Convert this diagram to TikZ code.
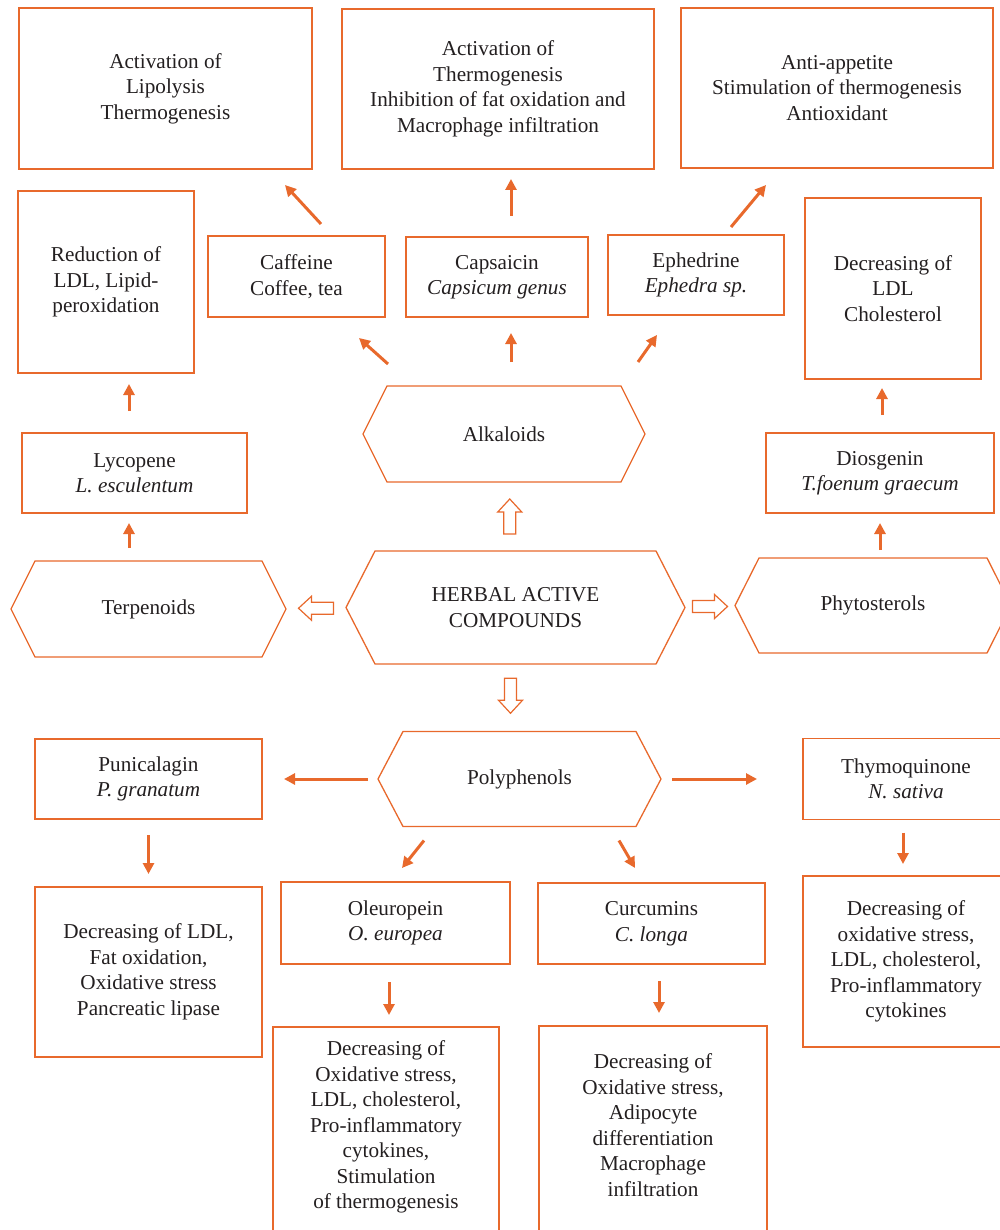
\documentclass[tikz,border=0pt]{standalone}
\usepackage{fontspec}
\setmainfont{Liberation Serif}
\usetikzlibrary{arrows.meta,calc}
\definecolor{orng}{HTML}{E8692C}
\definecolor{ink}{HTML}{231F20}

\tikzset{
  txt/.style={inner sep=0pt, outer sep=0pt, align=center, text=ink, font=\fontsize{21.2}{25.5}\selectfont},
  box/.style={txt, draw=orng, line width=1.4pt},
  hexa/.style={txt},
  sz/.style 2 args={minimum width=#1pt, minimum height=#2pt},
  arr/.style={orng, line width=3pt, -{Triangle[length=11pt,width=11pt]}},
  fatarrow/.pic={\draw[orng, line width=1.2pt, fill=white] (-17.5,-6) -- (4.5,-6) -- (4.5,-12) -- (17.5,0) -- (4.5,12) -- (4.5,6) -- (-17.5,6) -- cycle;}
}

% hexagon round a node: name, slant
\newcommand{\drawhex}[2]{%
  \draw[orng, line width=1.3pt] (#1.west) -- ([xshift=#2pt]#1.north west) -- ([xshift=-#2pt]#1.north east) -- (#1.east) -- ([xshift=-#2pt]#1.south east) -- ([xshift=#2pt]#1.south west) -- cycle;}

\begin{document}
\begin{tikzpicture}[x=1pt, y=-1pt]
	\useasboundingbox (0,0) rectangle (999,1230);
	
	% top row
	\node[box, sz={293}{161}] (act1) at (165.5,88.5) {Activation of\\Lipolysis\\Thermogenesis};
	\node[box, sz={312}{160}] (act2) at (498,89) {Activation of\\Thermogenesis\\Inhibition of fat oxidation and\\Macrophage infiltration};
	\node[box, sz={312}{160}] (act3) at (837,88) {Anti-appetite\\Stimulation of thermogenesis\\Antioxidant};
	
	% alkaloids branch
	\node[box, sz={177}{81}] (caff) at (296.5,276.5) {Caffeine\\Coffee, tea};
	\node[box, sz={182}{80}] (caps) at (497,277) {Capsaicin\\\textit{Capsicum genus}};
	\node[box, sz={176}{80}] (ephe) at (696,275) {Ephedrine\\\textit{Ephedra sp.}};
	\node[hexa, sz={282}{96}] (alk) at (504,434) {Alkaloids};
	\drawhex{alk}{24}
	
	% terpenoids branch
	\node[box, sz={176}{182}] (redu) at (106,282) {Reduction of\\LDL, Lipid-\\peroxidation};
	\node[box, sz={225}{80}] (lyco) at (134.5,473) {Lycopene\\\textit{L. esculentum}};
	\node[hexa, sz={275}{96}] (terp) at (148.5,609) {Terpenoids};
	\drawhex{terp}{24}
	
	% phytosterols branch
	\node[box, sz={176}{181}] (dchol) at (893,288.5) {Decreasing of\\LDL\\Cholesterol};
	\node[box, sz={228}{80}] (dios) at (880,473) {Diosgenin\\\textit{T.foenum graecum}};
	\node[hexa, sz={276}{95}] (phyto) at (873,605.5) {Phytosterols};
	\drawhex{phyto}{24}
	
	% centre
	\node[hexa, sz={339}{113}] (herb) at (515.5,607.5) {HERBAL ACTIVE\\COMPOUNDS};
	\drawhex{herb}{29}
	
	% polyphenols branch
	\node[hexa, sz={283}{95}] (poly) at (519.5,779) {Polyphenols};
	\drawhex{poly}{25}
	\node[box, sz={227}{80}] (puni) at (148.5,779) {Punicalagin\\\textit{P. granatum}};
	\node[box, sz={206}{81}] (thymo) at (906,779) {Thymoquinone\\\textit{N. sativa}};
	\node[box, sz={227}{170}] (decl) at (148.5,972) {Decreasing of LDL,\\Fat oxidation,\\Oxidative stress\\Pancreatic lipase};
	\node[box, sz={229}{82}] (oleu) at (395.5,923) {Oleuropein\\\textit{O. europea}};
	\node[box, sz={227}{81}] (curc) at (651.5,923.5) {Curcumins\\\textit{C. longa}};
	\node[box, sz={206}{171}] (thymod) at (906,961.5) {Decreasing of\\oxidative stress,\\LDL, cholesterol,\\Pro-inflammatory\\cytokines};
	\node[box, sz={226}{240}, anchor=north] (oleud) at (386,1027) {};
	\node[txt, anchor=north] (oleutxt) at ([shift={(0,14)}]oleud.north) {Decreasing of\\Oxidative stress,\\LDL, cholesterol,\\Pro-inflammatory\\cytokines,\\Stimulation\\of thermogenesis};
	\node[box, sz={228}{240}, anchor=north] (curcd) at (653,1026) {};
	\node[txt, anchor=north] (curctxt) at ([shift={(0,28)}]curcd.north) {Decreasing of\\Oxidative stress,\\Adipocyte\\differentiation\\Macrophage\\infiltration};
	
	% hollow arrows from the centre
	\pic[rotate=90] at ($(herb.north)!0.5!(alk.south)$) {fatarrow};
	\pic[rotate=180] at ($(herb.west)!0.5!(terp.east)$) {fatarrow};
	\pic at ($(herb.east)!0.5!(phyto.west)$) {fatarrow};
	\pic[rotate=-90] at ($(herb.south)!0.5!(poly.north)+(-7,-2)$) {fatarrow};
	
	% arrows
	\draw[arr] ([shift={(24.5,-12)}]caff.north) -- ([shift={(119.5,16)}]act1.south);
	\draw[arr] ([shift={(14,-21)}]caps.north) -- ([shift={(13,10)}]act2.south);
	\draw[arr] ([shift={(35,-8)}]ephe.north) -- ([shift={(-71,17)}]act3.south);
	\draw[arr] ([shift={(-116,-22)}]alk.north) -- ([shift={(62.5,21)}]caff.south);
	\draw[arr] ([shift={(7,-24)}]alk.north) -- ([shift={(14,16)}]caps.south);
	\draw[arr] ([shift={(134,-24)}]alk.north) -- ([shift={(-39,20)}]ephe.south);
	\draw[arr] ([shift={(-5.5,-22)}]lyco.north) -- ([shift={(23,11)}]redu.south);
	\draw[arr] ([shift={(-19.5,-13)}]terp.north) -- ([shift={(-5.5,10)}]lyco.south);
	\draw[arr] ([shift={(2,-18)}]dios.north) -- ([shift={(-11,9)}]dchol.south);
	\draw[arr] ([shift={(7,-8)}]phyto.north) -- ([shift={(0,10)}]dios.south);
	\draw[arr] ([shift={(-10,0)}]poly.west) -- ([shift={(22,0)}]puni.east);
	\draw[arr] ([shift={(11,0)}]poly.east) -- ([shift={(-46,0)}]thymo.west);
	\draw[arr] ([shift={(-95.5,14)}]poly.south) -- ([shift={(6.5,-14)}]oleu.north);
	\draw[arr] ([shift={(99.5,14)}]poly.south) -- ([shift={(-16.5,-15)}]curc.north);
	\draw[arr] ([shift={(0,16)}]puni.south) -- ([shift={(0,-13)}]decl.north);
	\draw[arr] ([shift={(-6.5,18)}]oleu.south) -- ([shift={(3,-12)}]oleud.north);
	\draw[arr] ([shift={(7.5,17)}]curc.south) -- ([shift={(6,-13)}]curcd.north);
	\draw[arr] ([shift={(-3,13)}]thymo.south) -- ([shift={(-3,-12)}]thymod.north);
	
\end{tikzpicture}
\end{document}
